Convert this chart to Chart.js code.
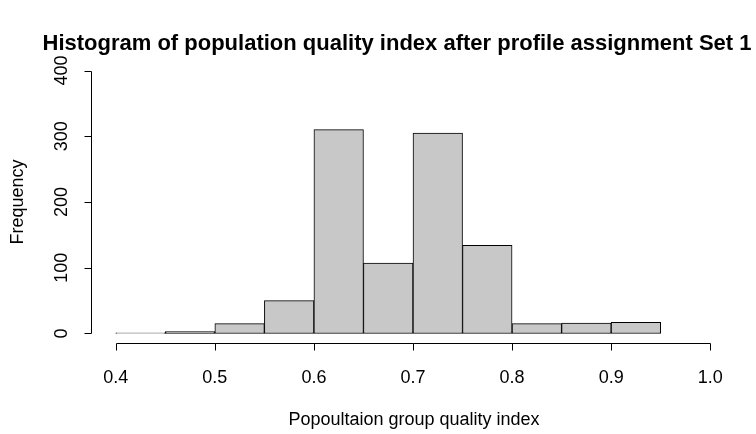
<!DOCTYPE html>
<html>
<head>
<meta charset="utf-8">
<script src="https://cdn.jsdelivr.net/npm/chart.js@4"></script>
<style>
  body { margin: 0; background: #fff; }
</style>
</head>
<body>
<canvas id="hist" width="756" height="434"></canvas>
<script>
// bin midpoints (width 0.05) and counts
const binMids = [0.425, 0.475, 0.525, 0.575, 0.625, 0.675, 0.725, 0.775, 0.825, 0.875, 0.925];
const counts = [1, 3, 15, 50, 310, 107, 305, 134, 15, 16, 17];
const xTicks = [0.4, 0.5, 0.6, 0.7, 0.8, 0.9, 1.0];
const yTicks = [0, 100, 200, 300, 400];

const font = '"Liberation Sans", Arial, Helvetica, sans-serif';

// R style axes, titles drawn off the chart scales
const rAxes = {
    id: 'rAxes',
    afterDraw(chart) {
        const ctx = chart.ctx;
        const sx = chart.scales.x;
        const sy = chart.scales.y;
        ctx.save();
        ctx.strokeStyle = '#000';
        ctx.fillStyle = '#000';
        ctx.lineWidth = 1;

        // x axis
        const ya = Math.round(chart.chartArea.bottom) - 0.5;
        const x0 = Math.round(sx.getPixelForValue(xTicks[0])) + 0.5;
        const x1 = Math.round(sx.getPixelForValue(xTicks[xTicks.length - 1])) + 0.5;
        ctx.beginPath();
        ctx.moveTo(x0, ya);
        ctx.lineTo(x1, ya);
        xTicks.forEach(v => {
            const px = Math.round(sx.getPixelForValue(v)) + 0.5;
            ctx.moveTo(px, ya);
            ctx.lineTo(px, ya + 7);
        });
        ctx.stroke();
        ctx.font = '18px ' + font;
        ctx.textAlign = 'center';
        ctx.textBaseline = 'middle';
        xTicks.forEach(v => {
            ctx.fillText(v.toFixed(1), sx.getPixelForValue(v), 378);
        });

        // y axis
        const xa = Math.round(chart.chartArea.left) - 0.5;
        const yTop = Math.round(sy.getPixelForValue(yTicks[yTicks.length - 1])) + 0.5;
        const yBot = Math.round(sy.getPixelForValue(yTicks[0])) + 0.5;
        ctx.beginPath();
        ctx.moveTo(xa, yTop);
        ctx.lineTo(xa, yBot);
        yTicks.forEach(v => {
            const py = Math.round(sy.getPixelForValue(v)) + 0.5;
            ctx.moveTo(xa, py);
            ctx.lineTo(xa - 7, py);
        });
        ctx.stroke();
        yTicks.forEach(v => {
            ctx.save();
            ctx.translate(62, sy.getPixelForValue(v));
            ctx.rotate(-Math.PI / 2);
            ctx.fillText(String(v), 0, 0);
            ctx.restore();
        });

        // axis titles
        ctx.fillText('Popoultaion group quality index', 414, 420);
        ctx.save();
        ctx.translate(18, 202);
        ctx.rotate(-Math.PI / 2);
        ctx.fillText('Frequency', 0, 0);
        ctx.restore();

        // main title
        ctx.font = 'bold 22px ' + font;
        ctx.fillText('Histogram of population quality index after profile assignment Set 1', 397, 44);
        ctx.restore();
    }
};

const dataHist = {
    datasets: [{
        label: 'Frequency',
        data: binMids.map((m, i) => ({ x: m, y: counts[i] })),
        backgroundColor: '#c8c8c8',
        borderColor: '#000',
        borderWidth: 1,
        borderSkipped: false,
        barPercentage: 1,
        categoryPercentage: 1
    }]
};

const configHist = {
    type: 'bar',
    data: dataHist,
    options: {
        responsive: false,
        animation: false,
        layout: {
            padding: { left: 92, right: 22, top: 60, bottom: 90 }
        },
        plugins: {
            legend: { display: false },
            tooltip: { enabled: false }
        },
        scales: {
            x: { type: 'linear', offset: false, min: 0.376, max: 1.024, display: false },
            y: { min: -16, max: 416, display: false }
        }
    },
    plugins: [rAxes]
};

const histChart = new Chart(document.getElementById('hist'), configHist);
</script>
</body>
</html>
